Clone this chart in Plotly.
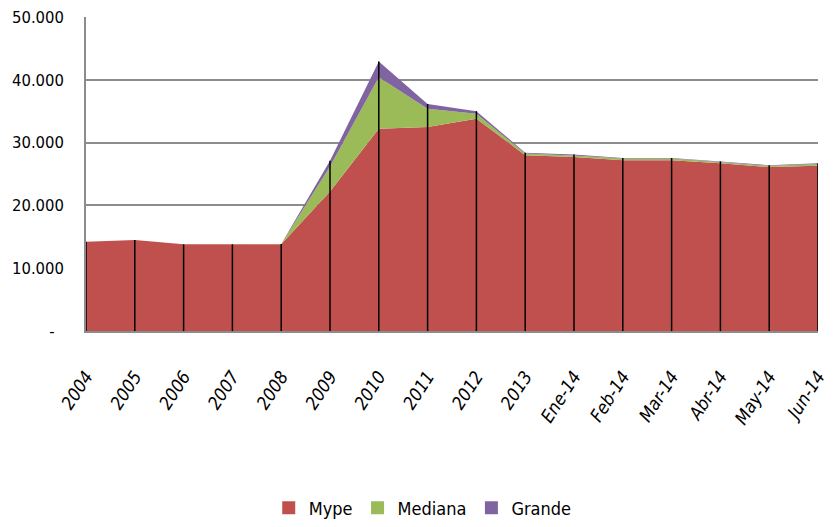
import plotly.graph_objects as go

categories = ["2004", "2005", "2006", "2007", "2008", "2009", "2010", "2011", "2012", "2013",
              "Ene-14", "Feb-14", "Mar-14", "Abr-14", "May-14", "Jun-14"]
mype = [14200, 14500, 13800, 13800, 13800, 22200, 32200, 32500, 33800, 28000,
        27700, 27200, 27200, 26700, 26100, 26300]
mediana = [0, 0, 0, 0, 50, 4000, 8200, 2900, 800, 250,
           250, 250, 250, 200, 200, 300]
grande = [0, 0, 0, 0, 0, 900, 2500, 750, 400, 150,
          150, 100, 100, 100, 100, 100]

y_tickvals = [0, 10000, 20000, 30000, 40000, 50000]
y_ticktext = ["-\u00a0\u00a0", "10.000", "20.000", "30.000", "40.000", "50.000"]

series = [("Mype", mype, "#C0504D"), ("Mediana", mediana, "#9BBB59"), ("Grande", grande, "#8064A2")]

FONT = "DejaVu Sans Condensed, Liberation Sans Narrow, sans-serif"

fig = go.Figure()
for name, vals, color in series:
    fig.add_trace(go.Scatter(
        x=categories, y=vals, name=name, stackgroup="one", mode="lines",
        line=dict(width=0, color=color), fillcolor=color, showlegend=False,
        hoverinfo="skip"))

# drop lines from axis to stacked total
totals = [a + b + c for a, b, c in zip(mype, mediana, grande)]
dx, dy = [], []
for c, t in zip(categories, totals):
    dx += [c, c, None]
    dy += [0, t, None]
fig.add_trace(go.Scatter(x=dx, y=dy, mode="lines", line=dict(color="black", width=1.5),
                         showlegend=False, hoverinfo="skip"))

# legend entries
for name, vals, color in series:
    fig.add_trace(go.Scatter(x=[None], y=[None], mode="markers", name=name,
                             marker=dict(symbol="square", size=13, color=color)))

fig.update_layout(
    width=818, height=511,
    margin=dict(l=78, r=8, t=9, b=188, autoexpand=False),
    plot_bgcolor="white", paper_bgcolor="white",
    font=dict(family=FONT, size=16.5, color="black"),
    showlegend=True,
    legend=dict(orientation="h", xref="container", yref="container",
                x=0.507, xanchor="center", y=0.0215, yanchor="middle",
                font=dict(family=FONT, size=18), itemwidth=30, tracegroupgap=0,
                traceorder="normal"),
    xaxis=dict(type="category", range=[0, 15], showgrid=False, showline=True,
               linecolor="#8c8c8c", linewidth=1.5, ticks="", tickangle=-57,
               tickvals=categories, ticktext=[f"<i>{c}</i>" for c in categories],
               tickfont=dict(family=FONT, size=18),
               ticklabelstandoff=26, automargin=False, fixedrange=True),
    yaxis=dict(range=[0, 50000], tickvals=y_tickvals, ticktext=y_ticktext,
               showgrid=True, gridcolor="#8c8c8c", gridwidth=1.5, showline=True,
               linecolor="#8c8c8c", linewidth=1.5, ticks="", zeroline=False,
               tickfont=dict(family=FONT, size=16.5), ticklabelstandoff=17,
               ticklabeloverflow="allow", automargin=False, fixedrange=True),
)

fig.write_html("out.html")
